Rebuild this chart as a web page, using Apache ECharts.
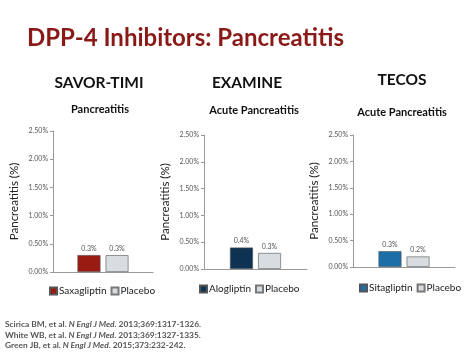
<!DOCTYPE html>
<html lang="en">
<head>
    <meta charset="UTF-8">
    <title>DPP-4 Inhibitors: Pancreatitis</title>
    <script src="https://cdn.jsdelivr.net/npm/echarts@6/dist/echarts.min.js"></script>
    <style>
        * { margin: 0; padding: 0; }
        body { background: #fff; }
        #chart { width: 474px; height: 355px; }
    </style>
</head>
<body>
    <div id="chart"></div>
    <script type="text/javascript">
        // data
        var trials = ['SAVOR-TIMI', 'EXAMINE', 'TECOS'];
        var subtitles = ['Pancreatitis', 'Acute Pancreatitis', 'Acute Pancreatitis'];
        var drugs = ['Saxagliptin', 'Alogliptin', 'Sitagliptin'];
        var drugValues = [0.3, 0.4, 0.3];
        var placeboValues = [0.3, 0.3, 0.2];
        var yTicks = [0, 0.5, 1.0, 1.5, 2.0, 2.5];
        var refs = [
            ['Scirica BM, et al. ', 'N Engl J Med', '. 2013;369:1317-1326.'],
            ['White WB, et al. ', 'N Engl J Med', '. 2013;369:1327-1335.'],
            ['Green JB, et al. ', 'N Engl J Med', '. 2015;373:232-242.']
        ];

        var font = 'Lato, "Open Sans", sans-serif';
        var drugColors = ['#9a1b12', '#0e3252', '#1c6ea8'];
        var placeboColor = '#d8dde1';

        // layout per panel
        var grids = [
            { left: 53, top: 131, width: 100, height: 141 },
            { left: 204, top: 135, width: 103, height: 134 },
            { left: 353, top: 135, width: 102, height: 132 }
        ];
        var titlePos = [[99, 75], [247, 75], [402, 72]];
        var subPos = [[100, 104], [254, 105], [402, 107]];
        var legendTop = [286, 284, 283];
        var legendLeft = [49, 199, 359];

        var title = [{
            text: 'DPP-4 Inhibitors: Pancreatitis',
            left: 27, top: 26, padding: 0,
            textStyle: { color: '#8a1a17', fontSize: 24, fontWeight: 'bold', fontFamily: font }
        }];
        trials.forEach(function (t, i) {
            title.push({
                text: t, left: titlePos[i][0], top: titlePos[i][1], textAlign: 'center', padding: 0,
                textStyle: { color: '#111', fontSize: 15.5, fontWeight: 'bold', fontFamily: font }
            });
            title.push({
                text: subtitles[i], left: subPos[i][0], top: subPos[i][1], textAlign: 'center', padding: 0,
                textStyle: { color: '#111', fontSize: 11, fontWeight: 'bold', fontFamily: font }
            });
        });
        refs.forEach(function (r, i) {
            title.push({
                text: '{n|' + r[0] + '}{i|' + r[1] + '}{n|' + r[2] + '}',
                left: 5, top: 320 + i * 10.8, padding: 0,
                textStyle: {
                    rich: {
                        n: { color: '#555', fontSize: 8.4, fontFamily: font },
                        i: { color: '#555', fontSize: 8.4, fontStyle: 'italic', fontFamily: font }
                    }
                }
            });
        });

        var grid = [], xAxis = [], yAxis = [], series = [], legend = [];
        grids.forEach(function (g, i) {
            grid.push(g);
            xAxis.push({
                type: 'category', gridIndex: i, data: [trials[i]],
                axisLine: { lineStyle: { color: '#999' } },
                axisTick: { show: false },
                axisLabel: { show: false }
            });
            yAxis.push({
                type: 'value', gridIndex: i, min: 0, max: yTicks[yTicks.length - 1], interval: 0.5,
                name: 'Pancreatitis (%)', nameLocation: 'middle', nameGap: 33, nameRotate: 90,
                nameTextStyle: { color: '#222', fontSize: 11.5, fontFamily: font },
                axisLine: { show: true, lineStyle: { color: '#999' } },
                axisTick: { show: true, length: 3, lineStyle: { color: '#999' } },
                splitLine: { show: false },
                axisLabel: {
                    color: '#555', fontSize: 7, fontFamily: font, margin: 5,
                    formatter: function (v) { return v.toFixed(2) + '%'; }
                }
            });
            var lbl = {
                show: true, position: 'top', distance: 3, color: '#555', fontSize: 7, fontFamily: font,
                formatter: function (p) { return p.value.toFixed(1) + '%'; }
            };
            series.push({
                name: drugs[i], type: 'bar', xAxisIndex: i, yAxisIndex: i,
                data: [drugValues[i]], barWidth: 23, barGap: '22%',
                itemStyle: { color: drugColors[i], borderColor: '#555', borderWidth: 0.6 },
                label: lbl
            });
            series.push({
                name: 'Placebo', type: 'bar', xAxisIndex: i, yAxisIndex: i,
                data: [placeboValues[i]], barWidth: 23, barGap: '22%',
                itemStyle: { color: placeboColor, borderColor: '#777', borderWidth: 0.8 },
                label: lbl
            });
            legend.push({
                data: [drugs[i], 'Placebo'],
                left: legendLeft[i], top: legendTop[i], width: 200, padding: 0,
                icon: 'rect', itemWidth: 7, itemHeight: 7, itemGap: 4,
                selectedMode: false,
                textStyle: { color: '#222', fontSize: 10, fontFamily: font, padding: [0, 0, 0, -3] }
            });
        });

        var myChart = echarts.init(document.getElementById('chart'));
        myChart.setOption({
            animation: false,
            title: title,
            grid: grid,
            xAxis: xAxis,
            yAxis: yAxis,
            legend: legend,
            series: series
        });
    </script>
</body>
</html>
